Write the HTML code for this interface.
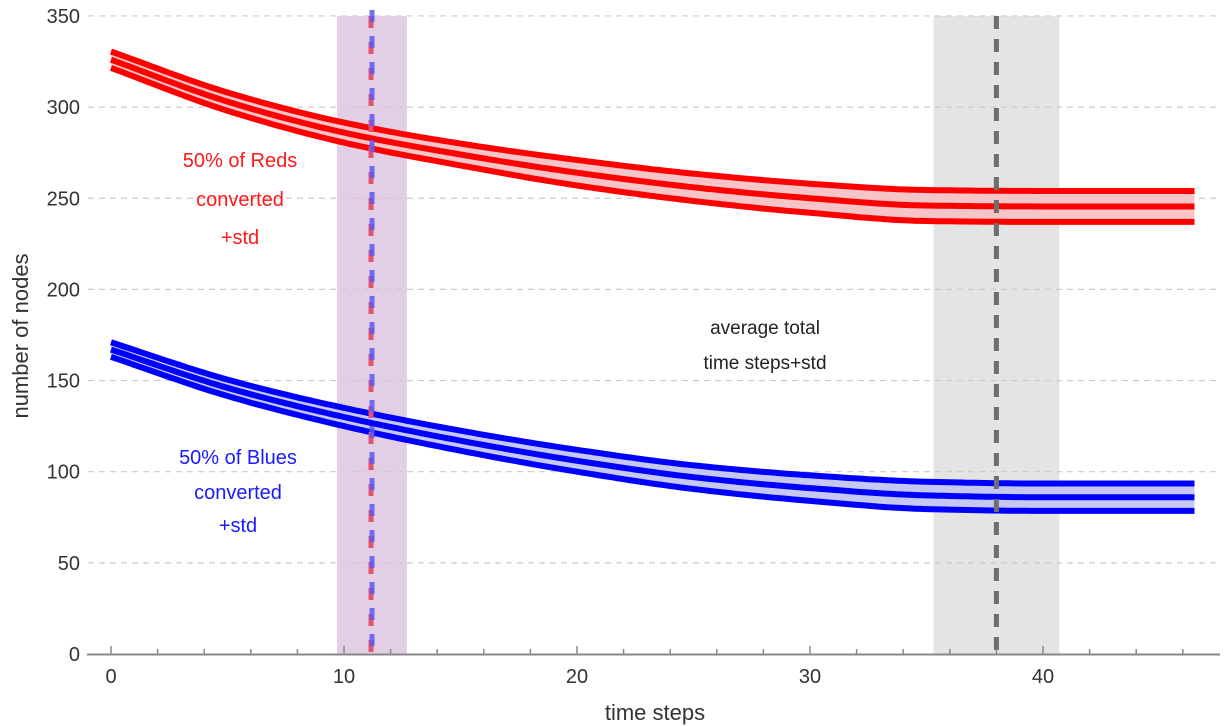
<!DOCTYPE html>
<html><head><meta charset="utf-8"><style>
html,body{margin:0;padding:0;background:#fff;}
svg{display:block;font-family:"Liberation Sans",sans-serif;}
</style></head><body>
<svg id="chart" width="1230" height="726" xmlns="http://www.w3.org/2000/svg">
<g id="bands"></g><g id="grid"></g><g id="series"></g><g id="vlines"></g><g id="axes"></g>
<g fill="#ff1a1a" font-size="20" text-anchor="middle">
<text x="240" y="167">50% of Reds</text><text x="240" y="206">converted</text><text x="240" y="244">+std</text></g>
<g fill="#1a1aff" font-size="20" text-anchor="middle">
<text x="238" y="464">50% of Blues</text><text x="238" y="499">converted</text><text x="238" y="532">+std</text></g>
<g fill="#222" font-size="19" text-anchor="middle">
<text x="765" y="334">average total</text><text x="765" y="369">time steps+std</text></g>
<text x="655" y="720" font-size="22" fill="#333" text-anchor="middle">time steps</text>
<text transform="translate(28,336) rotate(-90)" font-size="22" fill="#333" text-anchor="middle">number of nodes</text>
</svg>
<script>
const xs=[0,5,10,15,20,25,30,35,40,46.5];
const redMean=[326,303,286,274,264,256,250,246,245.5,245.5];
const redStd=[4.5,5,5.5,6,7,7.5,8,8.5,8.5,8.5];
const blueMean=[167,146,130,117,106,97,91,87,86,86];
const blueStd=[4,4.5,5,5.5,6,6.5,7,7.5,7.5,7.5];
const yTicks=[0,50,100,150,200,250,300,350];
const xTicks=[0,10,20,30,40];
const convBand=[9.7,12.7], convLine=11.16;
const totalBand=[35.3,40.7], totalLine=38.0;
const X=v=>111+v*23.3, Y=v=>654-v*1.823;
const NS="http://www.w3.org/2000/svg";
function mk(t,a,p){const e=document.createElementNS(NS,t);for(const k in a)e.setAttribute(k,a[k]);p.appendChild(e);return e;}
function pts(ys){
  const n=xs.length,d=[],m=new Array(n);
  for(let i=0;i<n-1;i++)d.push((ys[i+1]-ys[i])/(xs[i+1]-xs[i]));
  m[0]=d[0];m[n-1]=d[n-2];
  for(let i=1;i<n-1;i++)m[i]=(d[i-1]*d[i]<=0)?0:2/(1/d[i-1]+1/d[i]);
  const out=[];
  for(let i=0;i<n-1;i++){const h=xs[i+1]-xs[i];
    for(let k=0;k<20;k++){const t=k/20,t2=t*t,t3=t2*t;
      const y=(2*t3-3*t2+1)*ys[i]+(t3-2*t2+t)*h*m[i]+(-2*t3+3*t2)*ys[i+1]+(t3-t2)*h*m[i+1];
      out.push([X(xs[i]+t*h),Y(y)]);}}
  out.push([X(xs[n-1]),Y(ys[n-1])]);return out;}
const toD=p=>'M'+p.map(q=>q[0].toFixed(1)+','+q[1].toFixed(1)).join(' L');
const bands=document.getElementById('bands'),grid=document.getElementById('grid'),ser=document.getElementById('series'),vl=document.getElementById('vlines'),ax=document.getElementById('axes');
let e;
e=mk('rect',{x:X(convBand[0]),y:16,width:X(convBand[1])-X(convBand[0]),height:638,fill:'#e2cfe6'},bands);

e=mk('rect',{x:X(totalBand[0]),y:16,width:X(totalBand[1])-X(totalBand[0]),height:638,fill:'#e4e4e4'},bands);

yTicks.forEach(t=>{if(t>0){e=mk('line',{x1:88,x2:1220,y1:Y(t),y2:Y(t),stroke:'#ccc','stroke-width':1.2,'stroke-dasharray':'6 5'},grid);
}
e=mk('text',{x:80,y:Y(t)+7,'font-size':20,fill:'#333','text-anchor':'end'},ax);e.textContent=t;
});
function series(m,s,col,fill,name){const up=m.map((v,i)=>v+s[i]),lo=m.map((v,i)=>v-s[i]);
const pu=pts(up),pl=pts(lo).reverse();
e=mk('path',{d:toD(pu.concat(pl))+' Z',fill:fill},ser);
[[up,'upper'],[m,'mean'],[lo,'lower']].forEach(([a,n])=>{e=mk('path',{d:toD(pts(a)),fill:'none',stroke:col,'stroke-width':6,'stroke-linejoin':'round'},ser);
});}
series(redMean,redStd,'#ff0000','#f7c4c8','red');
series(blueMean,blueStd,'#0000ff','#c6c8f4','blue');
e=mk('line',{x1:X(convLine),x2:X(convLine),y1:16,y2:654,stroke:'#e8506e','stroke-width':5,'stroke-dasharray':'12 14'},vl);

e=mk('line',{x1:X(convLine)+1,x2:X(convLine)+1,y1:10,y2:654,stroke:'#5a5af0','stroke-width':5,'stroke-dasharray':'12 14','opacity':0.85},vl);

e=mk('line',{x1:X(totalLine),x2:X(totalLine),y1:16,y2:654,stroke:'#6e6e6e','stroke-width':5,'stroke-dasharray':'13 10'},vl);

e=mk('line',{x1:87,x2:1220,y1:654.5,y2:654.5,stroke:'#888','stroke-width':2},ax);

for(let t=0;t<=46;t+=2){const maj=t%10===0;e=mk('line',{x1:X(t),x2:X(t),y1:654,y2:maj?646:649,stroke:'#888','stroke-width':1.5},ax);
}
xTicks.forEach(t=>{e=mk('text',{x:X(t),y:683,'font-size':20,fill:'#333','text-anchor':'middle'},ax);e.textContent=t;
});
</script>
</body></html>
